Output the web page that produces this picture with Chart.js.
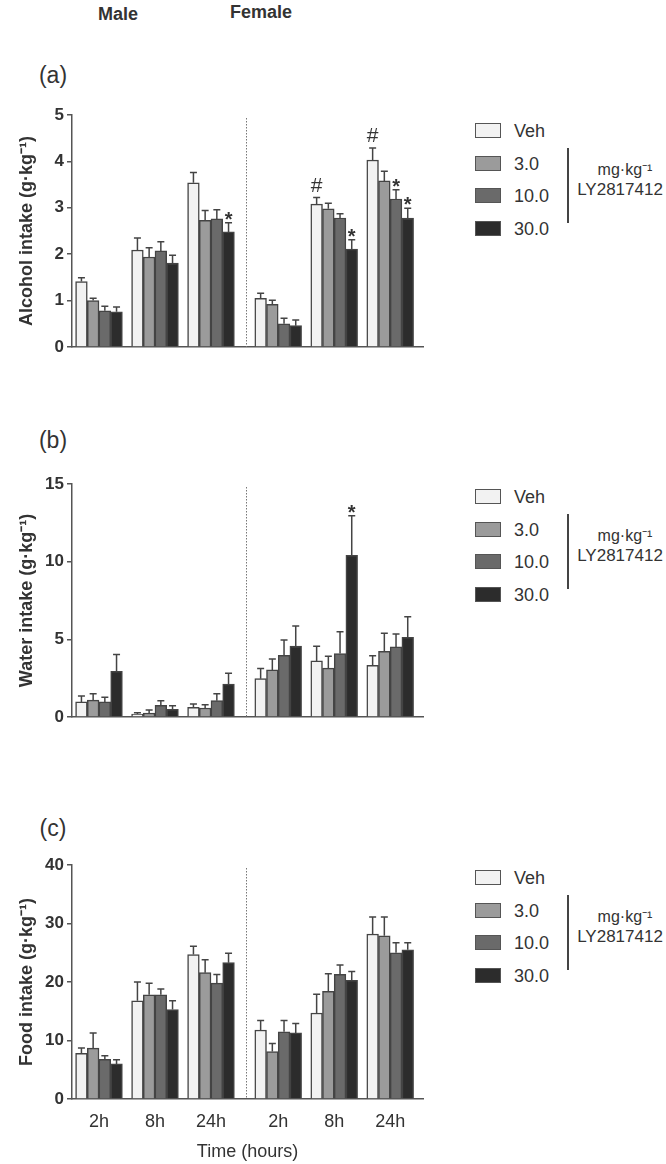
<!DOCTYPE html>
<html>
<head>
<meta charset="utf-8">
<script src="https://cdn.jsdelivr.net/npm/chart.js@4.4.0/dist/chart.umd.min.js"></script>
<style>
    body { margin: 0; background: #fff; width: 666px; height: 1164px; position: relative; overflow: hidden;
           font-family: "Liberation Sans", Arial, sans-serif; color: #333; }
    .txt { position: absolute; transform: translate(-50%, -50%); white-space: nowrap; }
    canvas { position: absolute; left: 0; }
    .box { position: absolute; width: 24px; height: 13px; border: 1.5px solid #555; }
    .vline { position: absolute; width: 1.5px; background: #444; }
</style>
</head>
<body>
<div class="txt" style="left:118px;top:14px;font-size:18px;font-weight:bold">Male</div>
<div class="txt" style="left:261px;top:12px;font-size:18px;font-weight:bold">Female</div>
<div class="txt" style="left:53px;top:75px;font-size:23px">(a)</div>
<div class="txt" style="left:53px;top:440px;font-size:23px">(b)</div>
<div class="txt" style="left:53px;top:828px;font-size:23px">(c)</div>

<canvas id="alcohol" width="460" height="265" style="top:100px"></canvas>
<canvas id="water" width="460" height="266" style="top:469px"></canvas>
<canvas id="food" width="460" height="313" style="top:850px"></canvas>
<div id="legends"></div>

<script>
// groups: Male 2h, 8h, 24h, Female 2h, 8h, 24h
const timeLabels = ['2h', '8h', '24h'];
const doseLabels = ['Veh', '3.0', '10.0', '30.0'];
const doseUnit = ['mg·kg⁻¹', 'LY2817412'];

// (a) alcohol intake, means and SEM
const alcoholVeh = [1.41, 2.09, 3.54, 1.05, 3.08, 4.03];
const alcohol3 = [1.00, 1.94, 2.73, 0.92, 2.98, 3.58];
const alcohol10 = [0.78, 2.07, 2.76, 0.50, 2.78, 3.19];
const alcohol30 = [0.76, 1.81, 2.48, 0.46, 2.11, 2.78];
const alcoholVehErr = [0.08, 0.26, 0.22, 0.11, 0.14, 0.26];
const alcohol3Err = [0.05, 0.20, 0.21, 0.09, 0.12, 0.21];
const alcohol10Err = [0.10, 0.20, 0.20, 0.12, 0.09, 0.20];
const alcohol30Err = [0.10, 0.17, 0.20, 0.12, 0.20, 0.21];

// (b) water intake
const waterVeh = [0.97, 0.19, 0.62, 2.47, 3.61, 3.33];
const water3 = [1.09, 0.26, 0.58, 3.03, 3.15, 4.23];
const water10 = [0.97, 0.75, 1.05, 3.97, 4.08, 4.51];
const water30 = [2.94, 0.49, 2.12, 4.57, 10.41, 5.13];
const waterVehErr = [0.38, 0.09, 0.22, 0.66, 0.94, 0.62];
const water3Err = [0.41, 0.19, 0.21, 0.70, 0.76, 1.16];
const water10Err = [0.30, 0.30, 0.45, 0.99, 1.41, 0.83];
const water30Err = [1.09, 0.24, 0.69, 1.29, 2.55, 1.33];

// (c) food intake
const foodVeh = [7.8, 16.8, 24.7, 11.8, 14.7, 28.2];
const food3 = [8.7, 17.8, 21.6, 8.1, 18.4, 27.9];
const food10 = [6.8, 17.8, 19.8, 11.5, 21.3, 25.0];
const food30 = [6.0, 15.3, 23.3, 11.3, 20.3, 25.5];
const foodVehErr = [0.9, 3.2, 1.4, 1.6, 3.2, 2.9];
const food3Err = [2.6, 2.0, 2.2, 1.4, 3.0, 3.2];
const food10Err = [0.6, 1.0, 1.5, 1.9, 1.6, 1.7];
const food30Err = [0.7, 1.5, 1.6, 1.6, 1.5, 1.2];

// significance marks: [dose index, group index, symbol]
const alcoholMarks = [[3, 2, '*'], [0, 4, '#'], [3, 4, '*'], [0, 5, '#'], [2, 5, '*'], [3, 5, '*']];
const waterMarks = [[3, 4, '*']];
const foodMarks = [];

// layout
const groupX = [0, 1, 2, 3.2, 4.2, 5.2];
const dividerX = 2.62;
const doseColors = ['#f2f2f2', '#9b9b9b', '#6a6a6a', '#2c2c2c'];
const axisColor = '#555';

// Error bars (upper only)
const errorBarPlugin = {
    id: 'errorBars',
    afterDatasetsDraw(chart) {
        const ctx = chart.ctx;
        const yScale = chart.scales.y;
        ctx.save();
        ctx.strokeStyle = '#444';
        ctx.lineWidth = 1.5;
        chart.data.datasets.forEach((ds, di) => {
            chart.getDatasetMeta(di).data.forEach((bar, i) => {
                const top = yScale.getPixelForValue(ds.data[i].y + ds.errors[i]);
                ctx.beginPath();
                ctx.moveTo(bar.x, bar.y);
                ctx.lineTo(bar.x, top);
                ctx.moveTo(bar.x - 3.5, top);
                ctx.lineTo(bar.x + 3.5, top);
                ctx.stroke();
            });
        });
        ctx.restore();
    }
};

// Dotted line between male and female
const dividerPlugin = {
    id: 'divider',
    beforeDatasetsDraw(chart) {
        const ctx = chart.ctx;
        const x = Math.round(chart.scales.x.getPixelForValue(dividerX)) + 0.5;
        const area = chart.chartArea;
        ctx.save();
        ctx.strokeStyle = '#777';
        ctx.lineWidth = 1;
        ctx.setLineDash([1.5, 1.5]);
        ctx.beginPath();
        ctx.moveTo(x, area.top + 3);
        ctx.lineTo(x, area.bottom);
        ctx.stroke();
        ctx.restore();
    }
};

// * and # above the error bars
const marksPlugin = {
    id: 'marks',
    afterDatasetsDraw(chart, args, opts) {
        const ctx = chart.ctx;
        const yScale = chart.scales.y;
        ctx.save();
        ctx.fillStyle = '#333';
        ctx.textAlign = 'center';
        ctx.textBaseline = 'alphabetic';
        (opts.list || []).forEach(([di, gi, sym]) => {
            const ds = chart.data.datasets[di];
            const bar = chart.getDatasetMeta(di).data[gi];
            const top = yScale.getPixelForValue(ds.data[gi].y + ds.errors[gi]);
            if (sym === '#') {
                ctx.font = '21px "Liberation Sans", Arial, sans-serif';
                ctx.fillText(sym, bar.x, top - 6);
            } else {
                ctx.font = 'bold 20px "Liberation Sans", Arial, sans-serif';
                ctx.fillText(sym, bar.x, top + 3);
            }
        });
        ctx.restore();
    }
};

function makeDatasets(means, errs) {
    return means.map((vals, d) => ({
        label: doseLabels[d],
        data: vals.map((v, i) => ({ x: groupX[i], y: v })),
        errors: errs[d],
        backgroundColor: doseColors[d],
        borderColor: '#444',
        borderWidth: 1.5,
        barThickness: 11.7,
        grouped: true
    }));
}

function makeChart(id, cfg) {
    const tickFont = { family: '"Liberation Sans", Arial, sans-serif', size: 17, weight: 'bold' };
    return new Chart(document.getElementById(id), {
        type: 'bar',
        data: { datasets: makeDatasets(cfg.means, cfg.errs) },
        options: {
            responsive: false,
            animation: false,
            layout: { padding: { top: 15, right: 37, left: 0, bottom: 0 } },
            plugins: {
                legend: { display: false },
                tooltip: { enabled: false },
                marks: { list: cfg.marks }
            },
            scales: {
                x: {
                    type: 'linear',
                    min: -0.482,
                    max: 5.786,
                    offset: false,
                    grid: { display: false, offset: false, drawTicks: false },
                    border: { display: true, color: axisColor, width: 1.5 },
                    afterBuildTicks: (scale) => {
                        scale.ticks = groupX.map(v => ({ value: v }));
                    },
                    afterFit: (scale) => { scale.height = cfg.xHeight; },
                    ticks: {
                        display: cfg.showTicks,
                        autoSkip: false,
                        maxRotation: 0,
                        padding: 12,
                        color: '#333',
                        font: { family: '"Liberation Sans", Arial, sans-serif', size: 18 },
                        callback: (v, i) => timeLabels[i % 3]
                    },
                    title: {
                        display: cfg.showTicks,
                        text: 'Time (hours)',
                        color: '#333',
                        padding: 0,
                        font: { family: '"Liberation Sans", Arial, sans-serif', size: 18 }
                    }
                },
                y: {
                    min: 0,
                    max: cfg.yMax,
                    afterFit: (scale) => { scale.width = 72; },
                    grid: { display: true, drawOnChartArea: false, drawTicks: true, tickLength: 5, color: axisColor, lineWidth: 1.5 },
                    border: { display: true, color: axisColor, width: 1.5 },
                    ticks: { stepSize: cfg.yStep, padding: 3, color: '#333', font: tickFont },
                    title: {
                        display: true,
                        text: cfg.yTitle,
                        color: '#333',
                        padding: { top: 16, bottom: 0 },
                        font: { family: '"Liberation Sans", Arial, sans-serif', size: 18, weight: 'bold' }
                    }
                }
            }
        },
        plugins: [dividerPlugin, errorBarPlugin, marksPlugin]
    });
}

makeChart('alcohol', {
    means: [alcoholVeh, alcohol3, alcohol10, alcohol30],
    errs: [alcoholVehErr, alcohol3Err, alcohol10Err, alcohol30Err],
    marks: alcoholMarks, yMax: 5, yStep: 1, xHeight: 18, showTicks: false,
    yTitle: 'Alcohol intake (g·kg⁻¹)'
});
makeChart('water', {
    means: [waterVeh, water3, water10, water30],
    errs: [waterVehErr, water3Err, water10Err, water30Err],
    marks: waterMarks, yMax: 15, yStep: 5, xHeight: 18, showTicks: false,
    yTitle: 'Water intake (g·kg⁻¹)'
});
makeChart('food', {
    means: [foodVeh, food3, food10, food30],
    errs: [foodVehErr, food3Err, food10Err, food30Err],
    marks: foodMarks, yMax: 40, yStep: 10, xHeight: 64, showTicks: true,
    yTitle: 'Food intake (g·kg⁻¹)'
});

// Legends, one per panel
const legendTops = [131, 497, 878];
const legendRoot = document.getElementById('legends');
legendTops.forEach(top => {
    let html = '';
    doseLabels.forEach((lab, d) => {
        const cy = top + d * 32.7;
        html += `<div class="box" style="left:475px;top:${cy - 8}px;background:${doseColors[d]}"></div>`;
        html += `<div class="txt" style="left:${514}px;top:${cy}px;font-size:18px;transform:translate(0,-50%)">${lab}</div>`;
    });
    html += `<div class="vline" style="left:567px;top:${top + 17}px;height:75px"></div>`;
    html += `<div class="txt" style="left:625px;top:${top + 38}px;font-size:16px">${doseUnit[0]}</div>`;
    html += `<div class="txt" style="left:620px;top:${top + 59}px;font-size:17px">${doseUnit[1]}</div>`;
    legendRoot.innerHTML += html;
});
</script>
</body>
</html>
